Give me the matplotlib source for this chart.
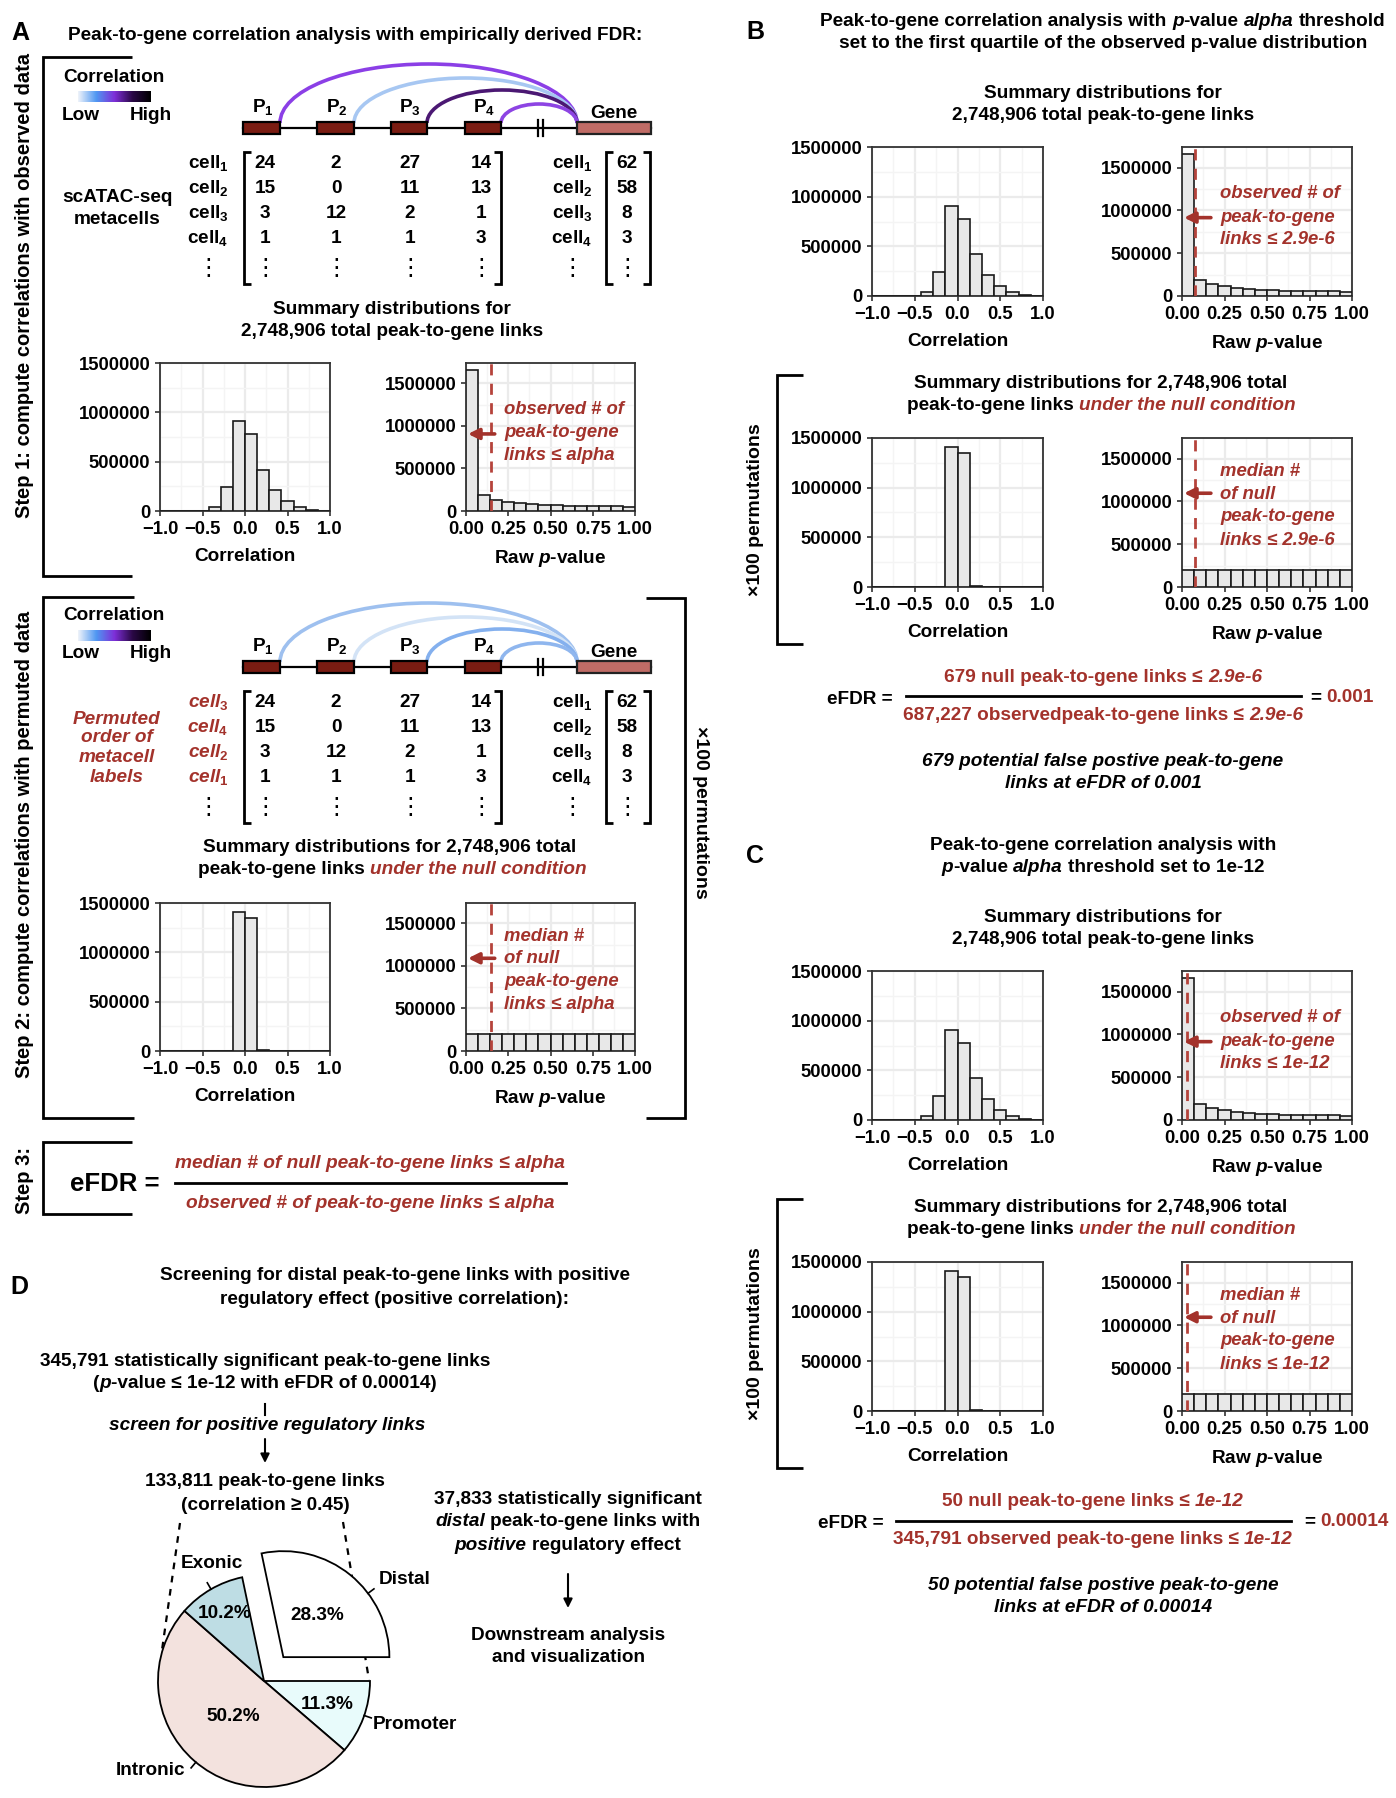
import numpy as np
import matplotlib
matplotlib.use("Agg")
import matplotlib.pyplot as plt
from matplotlib.patches import Arc, Rectangle
from matplotlib.colors import LinearSegmentedColormap

plt.rcParams["font.family"] = ["Liberation Sans", "DejaVu Sans"]
plt.rcParams["font.weight"] = "bold"
plt.rcParams["mathtext.fontset"] = "custom"
plt.rcParams["mathtext.rm"] = "Liberation Sans:bold"
plt.rcParams["mathtext.it"] = "Liberation Sans:italic:bold"
plt.rcParams["mathtext.bf"] = "Liberation Sans:bold"

RED = "#a3322b"
BAR = "#e8e8e8"
FS = 13.7

# ---- data ----
peak_names = ["P$_1$", "P$_2$", "P$_3$", "P$_4$"]
peak_counts = [[24, 2, 27, 14],
               [15, 0, 11, 13],
               [3, 12, 2, 1],
               [1, 1, 1, 3]]
gene_counts = [62, 58, 8, 3]
cell_order = [1, 2, 3, 4]
permuted_order = [3, 4, 2, 1]
total_links = 2748906

corr_edges = np.arange(-7, 8) / 7
corr_observed = [0, 0, 0, 3000, 40000, 239000, 911000, 780000, 420000,
                 212000, 101000, 40000, 13000, 2000]
corr_null = [0, 0, 0, 0, 0, 1000, 1409000, 1348000, 6000, 0, 0, 0, 0, 0]

pval_edges = np.arange(15) / 14
pval_observed = [1655000, 186000, 135000, 111000, 94000, 82000, 74000,
                 68000, 64000, 61000, 58000, 56000, 54000, 52000]
pval_null = [203000, 196000, 197000, 196000, 198000, 197000, 196000,
             197000, 196000, 196000, 197000, 196000, 196000, 195000]

# alpha thresholds marked on the p-value axis (panel A is schematic)
alpha_mark = {"A": 0.147, "B": 0.074, "C": 0.032}
alpha_text = {"A": "alpha", "B": "2.9e-6", "C": "1e-12"}
null_hits = {"B": 679, "C": 50}
observed_hits = {"B": 687227, "C": 345791}
efdr = {"B": "0.001", "C": "0.00014"}

region_names = ["Promoter", "Intronic", "Exonic", "Distal"]
region_pct = [11.3, 50.2, 10.2, 28.3]
region_colors = ["#e8fbfb", "#f3e2de", "#bedde4", "#ffffff"]

arc_colors_obs = ["#8b3fe6", "#a7c7f2", "#4b1873", "#8d44e3"]
arc_colors_null = ["#9ec0ef", "#d3e3f6", "#84b0ee", "#8fb6ee"]

# ---- canvas in pixel coordinates ----
W, H = 1396, 1798
fig = plt.figure(figsize=(W / 100, H / 100), dpi=100)
base = fig.add_axes([0, 0, 1, 1])
base.set_xlim(0, W)
base.set_ylim(H, 0)
base.set_autoscale_on(False)
base.axis("off")
renderer = fig.canvas.get_renderer()


def put(x, y, s, size=FS, color="black", style="normal", ha="center", va="center", **kw):
    return base.text(x, y, s, fontsize=size, color=color, style=style,
                     fontweight="bold", ha=ha, va=va, **kw)


def rich(x, y, parts, size=FS, ha="center"):
    # one line built from (text, color, style) pieces
    space = 0.278 * size * 100 / 72
    items = []
    total = 0
    for s, color, style in parts:
        lead = space * (len(s) - len(s.lstrip(" ")))
        trail = space * (len(s) - len(s.rstrip(" ")))
        t = put(0, y, s.strip(), size, color, style, ha="left")
        w = t.get_window_extent(renderer).width
        items.append((t, lead, w, trail))
        total += lead + w + trail
    cur = x - total / 2 if ha == "center" else x
    for t, lead, w, trail in items:
        t.set_x(cur + lead)
        cur += lead + w + trail


def bracket(x, y0, y1, serif, lw=2):
    base.plot([x + serif, x, x, x + serif], [y0, y0, y1, y1], color="black",
              lw=lw, solid_joinstyle="miter", solid_capstyle="butt")


cmap = LinearSegmentedColormap.from_list(
    "corr", ["#eef3fa", "#4f97f2", "#7e2fd8", "#2a0845", "#000000"])


def corr_key(dy):
    put(114, 77 + dy, "Correlation")
    grad = np.linspace(0, 1, 200).reshape(1, -1)
    base.imshow(grad, extent=[78, 151, 102 + dy, 91 + dy], cmap=cmap,
                aspect="auto", zorder=2)
    put(81, 115 + dy, "Low")
    put(151, 115 + dy, "High")
    base.set_xlim(0, W)
    base.set_ylim(H, 0)


def gene_track(dy, arc_colors):
    y = 128 + dy
    peak_x = [(243, 280), (317, 354), (391, 427), (465, 501)]
    heights = [59, 45, 33, 19]
    base.plot([243, 651], [y, y], color="black", lw=1.6, zorder=1)
    for (x0, x1), name, col, h in zip(peak_x, peak_names, arc_colors, heights):
        base.add_patch(Arc(((x1 + 577) / 2, y - 5), 577 - x1, 2 * h,
                           theta1=180, theta2=360, color=col, lw=2.6, zorder=1))
        base.add_patch(Rectangle((x0, y - 6), x1 - x0, 12, fc="#7a1c12",
                                 ec="black", lw=1.6, zorder=3))
        put((x0 + x1) / 2 + 1, y - 16, name, va="baseline")
    base.add_patch(Rectangle((577, y - 6), 74, 12, fc="#c06c66", ec="#222222",
                             lw=1.6, zorder=3))
    put(614, y - 10, "Gene", va="baseline")
    for bx in (538, 543):
        base.plot([bx, bx], [y - 8, y + 8], color="black", lw=1.6, zorder=2)


def matrix(dy, labels, color, style):
    rows = [168, 193, 218, 243]
    cols = [265, 336, 410, 481]
    for i, row in enumerate(peak_counts):
        yb = rows[i] + dy
        if style == "italic":
            lab = r"$\mathit{cell_{%d}}$" % labels[i]
        else:
            lab = r"cell$_{%d}$" % labels[i]
        put(208, yb, lab, color=color, va="baseline")
        for cx, v in zip(cols, row):
            put(cx, yb, str(v), va="baseline")
        put(572, yb, r"cell$_{%d}$" % cell_order[i], va="baseline")
        put(627, yb, str(gene_counts[i]), va="baseline")
    for cx in [208] + cols + [572, 627]:
        base.text(cx, 268 + dy, "\u22ee", fontsize=17, family="DejaVu Sans",
                  fontweight="normal", ha="center", va="center")
    bracket(244, 152 + dy, 284 + dy, 7)
    bracket(501, 152 + dy, 284 + dy, -7)
    bracket(606, 152 + dy, 284 + dy, 7)
    bracket(650, 152 + dy, 284 + dy, -7)


def hist_panel(box, edges, counts, kind, cut=None, arrow_y=None, note=None):
    x0, y0, x1, y1 = box
    ax = fig.add_axes([x0 / W, 1 - y1 / H, (x1 - x0) / W, (y1 - y0) / H])
    ax.bar(edges[:-1], counts, width=np.diff(edges), align="edge", color=BAR,
           edgecolor="#1a1a1a", lw=1.2, zorder=3)
    if kind == "corr":
        ax.set_xlim(-1, 1)
        ax.set_ylim(0, 1.5e6)
        ax.set_xticks([-1, -0.5, 0, 0.5, 1])
        ax.set_xticklabels(["\u22121.0", "\u22120.5", "0.0", "0.5", "1.0"])
        ax.set_xticks([-0.75, -0.25, 0.25, 0.75], minor=True)
        ax.set_xlabel("Correlation", fontsize=FS, fontweight="bold", labelpad=7)
    else:
        ax.set_xlim(0, 1)
        ax.set_ylim(0, 1.74e6)
        ax.set_xticks([0, 0.25, 0.5, 0.75, 1])
        ax.set_xticklabels(["0.00", "0.25", "0.50", "0.75", "1.00"])
        ax.set_xticks([0.125, 0.375, 0.625, 0.875], minor=True)
        ax.set_xlabel(r"Raw $\mathit{p}$-value", fontsize=FS, fontweight="bold",
                      labelpad=7)
    ax.set_yticks([0, 5e5, 1e6, 1.5e6])
    ax.set_yticklabels(["0", "500000", "1000000", "1500000"])
    ax.set_yticks([2.5e5, 7.5e5, 1.25e6], minor=True)
    ax.grid(which="major", color="#ebebeb", lw=1.6)
    ax.grid(which="minor", color="#f4f4f4", lw=1.0)
    ax.set_axisbelow(True)
    ax.tick_params(which="major", length=3.6, width=1.2, color="#333333",
                   labelsize=13.3, pad=3.5)
    ax.tick_params(which="minor", length=0)
    for sp in ax.spines.values():
        sp.set_color("#333333")
        sp.set_linewidth(1.3)
    if cut is not None:
        ax.axvline(cut, color="#b5433b", lw=2, ls=(0, (4, 3)), zorder=4)
        ax.annotate("", xy=(0.012, arrow_y), xytext=(0.17, arrow_y),
                    arrowprops=dict(arrowstyle="-|>", color=RED, lw=2.6,
                                    mutation_scale=16, shrinkA=0, shrinkB=0),
                    zorder=5)
        ys = [0.685, 0.528, 0.377] if len(note) == 3 else [0.777, 0.624, 0.472, 0.314]
        for line, yy in zip(note, ys):
            ax.text(0.225, yy, line, transform=ax.transAxes, color=RED,
                    style="italic", fontsize=13.3, fontweight="bold",
                    ha="left", va="center", zorder=6)
    return ax


def obs_note(key):
    return ["observed # of", "peak-to-gene", "links \u2264 " + alpha_text[key]]


def null_note(key):
    return ["median #", "of null", "peak-to-gene", "links \u2264 " + alpha_text[key]]


links_txt = f"{total_links:,}"
K, N, I = "black", "normal", "italic"

# ================= Panel A =================
put(20, 33, "A", size=18)
put(355, 35, "Peak-to-gene correlation analysis with empirically derived FDR:")

# step 1
bracket(43, 57, 576, 89)
put(25, 286, "Step 1: compute correlations with observed data", size=14.5, rotation=90)
corr_key(0)
gene_track(0, arc_colors_obs)
matrix(0, cell_order, "black", "normal")
put(117, 197, "scATAC-seq")
put(117, 220, "metacells")
put(392, 309, "Summary distributions for")
put(392, 332, f"{links_txt} total peak-to-gene links")
hist_panel((160, 363, 330, 511), corr_edges, corr_observed, "corr")
hist_panel((466, 363, 635, 511), pval_edges, pval_observed, "pval",
           cut=alpha_mark["A"], arrow_y=906000, note=obs_note("A"))

# step 2
bracket(43, 597, 1118, 91)
bracket(685, 598, 1118, -39)
put(25, 844, "Step 2: compute correlations with permuted data", size=14.5, rotation=90)
put(700, 812, "\u00d7100 permutations", size=14, rotation=270)
corr_key(539)
gene_track(539, arc_colors_null)
matrix(539, permuted_order, RED, "italic")
for yy, line in zip([719, 738, 757, 777], ["Permuted", "order of", "metacell", "labels"]):
    put(117, yy, line, color=RED, style="italic")
put(390, 847, f"Summary distributions for {links_txt} total")
rich(392, 870, [("peak-to-gene links ", K, N), ("under the null condition", RED, I)])
hist_panel((160, 903, 330, 1051), corr_edges, corr_null, "corr")
hist_panel((466, 903, 635, 1051), pval_edges, pval_null, "pval",
           cut=alpha_mark["A"], arrow_y=1090000, note=null_note("A"))

# step 3
bracket(43, 1142, 1214, 89)
put(25, 1180, "Step 3:", size=14.5, rotation=90)
put(115, 1184, "eFDR =", size=18.5)
base.plot([175, 566], [1183, 1183], color="black", lw=2)
put(370, 1163, "median # of null peak-to-gene links \u2264 alpha", size=13.8,
    color=RED, style="italic")
put(370, 1204, "observed # of peak-to-gene links \u2264 alpha", size=13.8,
    color=RED, style="italic")

# ================= Panels B and C =================
for key, dy in (("B", 0), ("C", 824)):
    put(755, 32 + dy if key == "B" else 856, key, size=18)
    if key == "B":
        rich(1103, 22, [("Peak-to-gene correlation analysis with ", K, N), ("p", K, I),
                        ("-value ", K, N), ("alpha", K, I), (" threshold", K, N)])
        put(1103, 44, "set to the first quartile of the observed p-value distribution")
    else:
        put(1103, 846, "Peak-to-gene correlation analysis with")
        rich(1103, 868, [("p", K, I), ("-value ", K, N), ("alpha", K, I),
                         (" threshold set to 1e-12", K, N)])
    put(1103, 93 + dy, "Summary distributions for")
    put(1103, 116 + dy, f"{links_txt} total peak-to-gene links")
    hist_panel((872, 147 + dy, 1043, 296 + dy), corr_edges, corr_observed, "corr")
    hist_panel((1182, 147 + dy, 1352, 296 + dy), pval_edges, pval_observed, "pval",
               cut=alpha_mark[key], arrow_y=915000, note=obs_note(key))

    bracket(777, 375 + dy, 644 + dy, 26)
    put(756, 510 + dy, "\u00d7100 permutations", size=14, rotation=90)
    put(1101, 383 + dy, f"Summary distributions for {links_txt} total")
    rich(1101, 405 + dy, [("peak-to-gene links ", K, N), ("under the null condition", RED, I)])
    hist_panel((872, 438 + dy, 1043, 587 + dy), corr_edges, corr_null, "corr")
    hist_panel((1182, 438 + dy, 1352, 587 + dy), pval_edges, pval_null, "pval",
               cut=alpha_mark[key], arrow_y=1095000, note=null_note(key))

# eFDR for B
put(860, 700, "eFDR =")
base.plot([906, 1301], [696, 696], color="black", lw=2)
rich(1103, 677, [(f"{null_hits['B']} null peak-to-gene links \u2264 ", RED, N),
                 (alpha_text["B"], RED, I)])
rich(1103, 716, [(f"{observed_hits['B']:,} observedpeak-to-gene links \u2264 ", RED, N),
                 (alpha_text["B"], RED, I)])
rich(1310, 698, [("= ", K, N), (efdr["B"], RED, N)], ha="left")
put(1103, 762, f"{null_hits['B']} potential false postive peak-to-gene", style="italic")
put(1103, 783, f"links at eFDR of {efdr['B']}", style="italic")

# eFDR for C
put(851, 1523, "eFDR =")
base.plot([896, 1291], [1521, 1521], color="black", lw=2)
rich(1093, 1501, [(f"{null_hits['C']} null peak-to-gene links \u2264 ", RED, N),
                  (alpha_text["C"], RED, I)])
rich(1093, 1540, [(f"{observed_hits['C']:,} observed peak-to-gene links \u2264 ", RED, N),
                  (alpha_text["C"], RED, I)])
rich(1304, 1522, [("= ", K, N), (efdr["C"], RED, N)], ha="left")
put(1103, 1585, f"{null_hits['C']} potential false postive peak-to-gene", style="italic")
put(1103, 1607, f"links at eFDR of {efdr['C']}", style="italic")

# ================= Panel D =================
put(19, 1287, "D", size=18)
put(395, 1276, "Screening for distal peak-to-gene links with positive")
put(395, 1299, "regulatory effect (positive correlation):")
put(265, 1361, f"{observed_hits['C']:,} statistically significant peak-to-gene links")
rich(265, 1384, [("(", K, N), ("p", K, I),
                 ("-value \u2264 1e-12 with eFDR of 0.00014)", K, N)])
base.plot([265, 265], [1404, 1415], color="black", lw=1.5)
put(267, 1425, "screen for positive regulatory links", style="italic")
base.annotate("", xy=(265, 1463), xytext=(265, 1439),
              arrowprops=dict(arrowstyle="-|>", color="black", lw=1.5,
                              mutation_scale=13, shrinkA=0, shrinkB=0))
put(265, 1482, "133,811 peak-to-gene links")
put(265, 1505, "(correlation \u2265 0.45)")

base.plot([180, 162], [1523, 1650], color="black", lw=1.6, ls=(0, (3, 3)))
base.plot([343, 369], [1522, 1680], color="black", lw=1.6, ls=(0, (3, 3)))

pax = fig.add_axes([(264 - 106) / W, 1 - (1681 + 106) / H, 212 / W, 212 / H])
wedges, _ = pax.pie(region_pct, colors=region_colors, startangle=0,
                    counterclock=False, explode=[0, 0, 0, 0.29],
                    wedgeprops=dict(edgecolor="black", linewidth=1.3))
pax.set_xlim(-1, 1)
pax.set_ylim(-1, 1)
pax.set_aspect("equal")
pax.axis("off")
pct_r = [0.64, 0.44, 0.74, 0.5]
tick_ang = [-19, -130, 120, 37]
for w, pct, r, ang in zip(wedges, region_pct, pct_r, tick_ang):
    w.set_clip_on(False)
    mid = np.deg2rad((w.theta1 + w.theta2) / 2)
    cx, cy = w.center
    pax.text(cx + r * np.cos(mid), cy + r * np.sin(mid), f"{pct}%",
             ha="center", va="center", fontsize=FS, fontweight="bold")
    a = np.deg2rad(ang)
    pax.plot([cx + np.cos(a), cx + 1.07 * np.cos(a)],
             [cy + np.sin(a), cy + 1.07 * np.sin(a)], color="black", lw=1.2,
             clip_on=False)
label_xy = {"Promoter": (1.03, -0.41, "left"), "Intronic": (-0.74, -0.84, "right"),
            "Exonic": (-0.49, 1.11, "center"), "Distal": (1.085, 0.96, "left")}
for name in region_names:
    lx, ly, lha = label_xy[name]
    pax.text(lx, ly, name, ha=lha, va="center", fontsize=FS, fontweight="bold")

put(568, 1499, "37,833 statistically significant")
rich(568, 1522, [("distal", K, I), (" peak-to-gene links with", K, N)])
rich(568, 1546, [("positive", K, I), (" regulatory effect", K, N)])
base.annotate("", xy=(568, 1608), xytext=(568, 1574),
              arrowprops=dict(arrowstyle="-|>", color="black", lw=1.5,
                              mutation_scale=13, shrinkA=0, shrinkB=0))
put(568, 1635, "Downstream analysis")
put(568, 1657, "and visualization")

fig.savefig("out.png", dpi=100, facecolor="white")
